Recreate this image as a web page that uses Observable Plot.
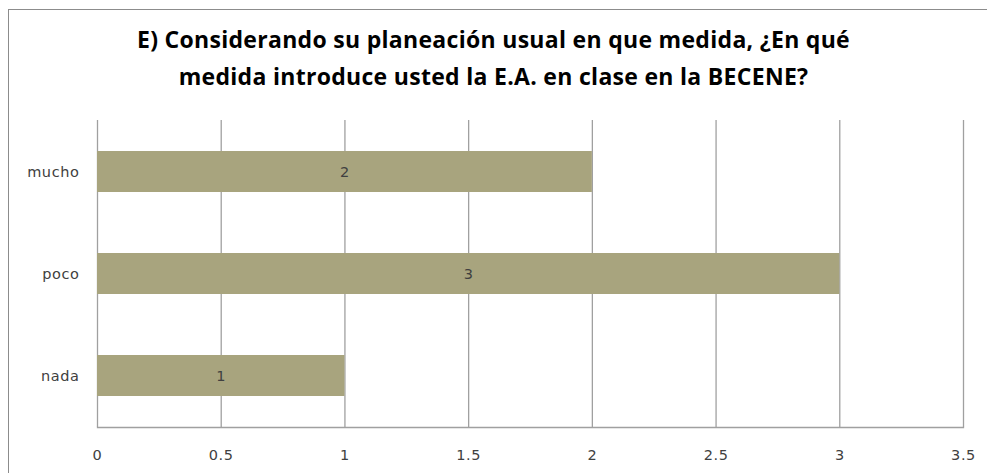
<!DOCTYPE html>
<html><head><meta charset="utf-8">
<script src="https://cdn.jsdelivr.net/npm/d3@7"></script>
<script src="https://cdn.jsdelivr.net/npm/@observablehq/plot@0.6"></script>
<style>
html,body{margin:0;padding:0;background:#fff;}
#wrap{position:relative;width:987px;height:473px;overflow:hidden;}
#frame{position:absolute;left:8px;top:9px;width:1200px;height:800px;border:1px solid #8c8c8c;box-sizing:border-box;}
#title{position:absolute;left:0;top:21px;width:987px;text-align:center;font-family:"Open Sans",sans-serif;font-weight:bold;font-size:23px;line-height:37px;color:#000;letter-spacing:0.3px;}
#chart{position:absolute;left:0;top:0;}
#chart svg text{letter-spacing:0.6px;}
</style></head>
<body>
<div id="wrap"><div id="frame"></div><div id="chart"></div>
<div id="title">E) Considerando su planeación usual en que medida, ¿En qué<br>medida introduce usted la E.A. en clase en la BECENE?</div></div>
<script>
const categories = ["mucho", "poco", "nada"];
const values = [2, 3, 1];
const xTicks = [0, 0.5, 1, 1.5, 2, 2.5, 3, 3.5];
const tickLabels = ["0", "0.5", "1", "1.5", "2", "2.5", "3", "3.5"];

const data = categories.map((c, i) => ({cat: c, v: values[i]}));

const plot = Plot.plot({
  width: 987, height: 473,
  marginTop: 120, marginBottom: 46, marginLeft: 97, marginRight: 24,
  style: {fontFamily: "'DejaVu Sans', sans-serif", fontSize: "14.5px", color: "#404040", background: "transparent"},
  x: {domain: [0, 3.5], ticks: xTicks, tickFormat: (d) => tickLabels[xTicks.indexOf(d)], tickSize: 0, tickPadding: 22, label: null},
  y: {domain: categories, paddingInner: 0.6, paddingOuter: 0.3, tickSize: 0, tickPadding: 18, label: null},
  marks: [
    Plot.ruleX(xTicks, {stroke: "#a0a0a0", strokeWidth: 1.3, strokeOpacity: 1}),
    Plot.frame({anchor: "bottom", stroke: "#a0a0a0", strokeWidth: 1.3}),
    Plot.barX(data, {x: "v", y: "cat", fill: "#a8a47e"}),
    Plot.text(data, {x: d => d.v / 2, y: "cat", text: d => String(d.v), fill: "#404040", fontSize: 14.5})
  ]
});
document.getElementById("chart").appendChild(plot);
</script>
</body></html>
